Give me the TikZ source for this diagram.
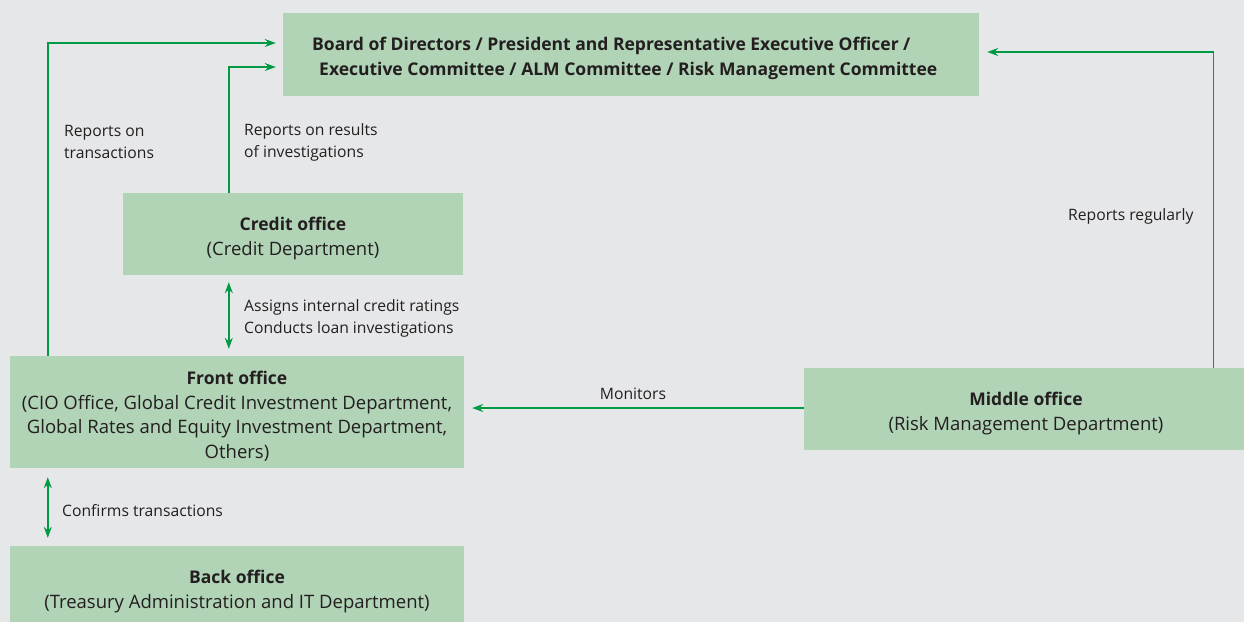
\documentclass[tikz,border=0pt]{standalone}
\usepackage{fontspec}
\setmainfont{Open Sans}
\usetikzlibrary{arrows.meta}
\definecolor{bg}{HTML}{E6E7E9}
\definecolor{boxg}{HTML}{B1D3B6}
\definecolor{arrg}{HTML}{009A44}
\definecolor{txt}{HTML}{231F20}
\newcommand\bhead[1]{{\fontsize{17.5}{24.5}\selectfont\bfseries #1}}
\tikzset{
  box/.style={fill=boxg, draw=none, inner sep=0pt},
  boxtext/.style={inner sep=0pt, align=center, text=txt,
    font=\fontsize{18.5}{24.5}\selectfont},
  lbl/.style={inner sep=0pt, align=left, text=txt, font=\fontsize{15.7}{22}\selectfont},
  arr/.style={draw=arrg, line width=1.4pt, -{Stealth[length=11pt,width=8pt]}},
  darr/.style={draw=arrg, line width=1.4pt, {Stealth[length=11pt,width=8pt]}-{Stealth[length=11pt,width=8pt]}}
}
\begin{document}
\begin{tikzpicture}[x=1pt,y=-1pt]
\fill[bg] (0,0) rectangle (1244,622);
\useasboundingbox (0,0) rectangle (1244,622);

\node[box, minimum width=696pt, minimum height=83pt] (board) at (631,54.5) {};
\node[box, minimum width=340pt, minimum height=82pt] (credit) at (293,234) {};
\node[box, minimum width=454pt, minimum height=112pt] (front) at (237,412) {};
\node[box, minimum width=454pt, minimum height=76pt] (back) at (237,584) {};
\node[box, minimum width=440pt, minimum height=82pt] (middle) at (1024,409) {};

\node[boxtext, align=left, anchor=west] (boardtxt) at (312,58.5)
  {\bhead{Board of Directors / President and Representative Executive Officer /}\\
   \hspace*{7pt}\bhead{Executive Committee / ALM Committee / Risk Management Committee}};
\node[boxtext] (credittxt) at (293,238.5)
  {\bhead{Credit office}\\(Credit Department)};
\node[boxtext] (fronttxt) at (237,416.5)
  {\bhead{Front office}\\(CIO Office, Global Credit Investment Department,\\Global Rates and Equity Investment Department,\\Others)};
\node[boxtext] (backtxt) at (237,591.5)
  {\bhead{Back office}\\(Treasury Administration and IT Department)};
\node[boxtext] (middletxt) at (1026,413.5)
  {\bhead{Middle office}\\(Risk Management Department)};

% connectors
\draw[arr, shorten >=7pt] ([xshift=38pt]front.north west) |- ([yshift=11.5pt]board.west);
\draw[arr, shorten >=7pt] ([xshift=106pt]credit.north west) |- ([yshift=-12.5pt]board.west);
\draw[arr, shorten >=8pt] ([xshift=-31pt]middle.north east) |- ([yshift=2.5pt]board.east);
\draw[darr, shorten >=7pt, shorten <=7pt] ([xshift=106pt]credit.south west) -- ([xshift=219pt]front.north west);
\draw[darr, shorten >=8pt, shorten <=9pt] ([xshift=38pt]front.south west) -- ([xshift=38pt]back.north west);
\draw[arr, shorten >=8pt] ([yshift=1pt]middle.west) -- ([yshift=1pt]middle.west -| front.east);

% labels
\node[lbl, anchor=west] (l1) at (64,141.5) {Reports on\\transactions};
\node[lbl, anchor=west] (l2) at (244,142) {Reports on results\\of investigations};
\node[lbl, anchor=west] (l3) at (1068,216) {Reports regularly};
\node[lbl, anchor=west] (l4) at (244,318) {Assigns internal credit ratings\\Conducts loan investigations};
\node[lbl, anchor=west] (l5) at (62,511) {Confirms transactions};
\node[lbl, anchor=center] (l6) at (633,394) {Monitors};
\end{tikzpicture}
\end{document}
